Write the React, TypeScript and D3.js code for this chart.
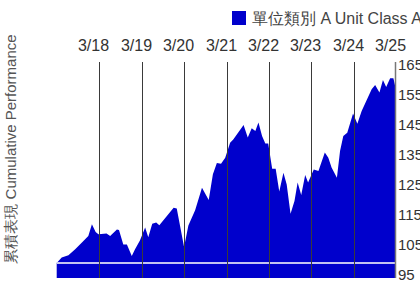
import { useEffect, useRef } from "react";
import * as d3 from "d3";

// fund cumulative performance, rebased to 100
const dates = [
  "2017-03-31", "2017-05-13", "2017-07-10", "2017-09-06", "2017-11-03", "2017-12-28",
  "2018-01-28", "2018-03-01", "2018-03-25", "2018-06-03", "2018-07-04", "2018-08-31",
  "2018-09-18", "2018-10-25", "2018-11-25", "2019-01-06", "2019-02-03", "2019-03-17",
  "2019-05-01", "2019-05-28", "2019-07-01", "2019-08-04", "2019-08-31", "2020-01-01",
  "2020-01-28", "2020-03-31", "2020-05-07", "2020-07-04", "2020-09-01", "2020-10-29",
  "2020-12-04", "2021-01-07", "2021-02-12", "2021-03-20", "2021-05-01", "2021-05-28",
  "2021-08-25", "2021-09-30", "2021-11-03", "2021-12-04", "2021-12-31", "2022-01-31",
  "2022-02-28", "2022-03-25", "2022-04-28", "2022-05-28", "2022-06-28", "2022-08-03",
  "2022-08-31", "2022-10-03", "2022-11-06", "2022-12-03", "2023-01-03", "2023-02-06",
  "2023-03-03", "2023-04-21", "2023-05-31", "2023-07-25", "2023-08-24", "2023-09-21",
  "2023-11-06", "2023-12-03", "2023-12-31", "2024-02-03", "2024-03-24", "2024-04-30",
  "2024-06-06", "2024-08-31", "2024-09-30", "2024-11-06", "2024-12-06", "2025-01-03",
  "2025-02-06", "2025-03-06", "2025-03-24",
];
const classA = [
  100.0, 101.8, 102.6, 104.6, 106.8, 109.0,
  112.9, 110.3, 109.6, 109.8, 109.0, 111.2,
  111.0, 106.2, 106.2, 102.3, 104.6, 107.5,
  111.8, 108.6, 113.1, 113.5, 112.6, 118.4,
  118.2, 105.3, 112.5, 117.6, 125.1, 121.0,
  129.6, 133.3, 133.1, 135.1, 140.1, 141.2,
  146.0, 141.8, 144.9, 144.0, 146.8, 142.3,
  139.8, 139.8, 131.4, 131.4, 123.8, 130.1,
  126.2, 116.4, 120.7, 126.8, 122.7, 129.3,
  126.8, 131.2, 130.7, 136.8, 135.1, 131.8,
  128.4, 137.3, 142.3, 143.4, 149.8, 146.4,
  150.7, 157.9, 159.3, 156.8, 161.0, 158.7,
  161.6, 161.6, 158.5,
];
const tickDates = ["2018-03-31", "2019-03-31", "2020-03-31", "2021-03-31", "2022-03-31", "2023-03-31", "2024-03-31", "2025-03-31"];
const tickLabels = ["3/18", "3/19", "3/20", "3/21", "3/22", "3/23", "3/24", "3/25"];
const yTicks = [95, 105, 115, 125, 135, 145, 155, 165];
const baseValue = 100;
const seriesName = "單位類別 A Unit Class A";
const yTitle = "累積表現 Cumulative Performance";

const BLUE = "#0000cc";

export default function App() {
  const svgRef = useRef<SVGSVGElement>(null);

  useEffect(() => {
    if (!svgRef.current) return;
    const svg = d3.select(svgRef.current);
    svg.selectAll("*").remove();

    const width = 420;
    const height = 282;
    const left = 56.7;
    const right = 396.3;
    const top = 62;
    const bottom = 278;
    const font = "Liberation Sans, Arial, sans-serif";

    svg.attr("width", width).attr("height", height);

    const parse = d3.timeParse("%Y-%m-%d");
    const data = dates.map((d, i) => ({ date: parse(d) as Date, value: classA[i] }));

    const x = d3.scaleTime().domain([parse("2017-03-31") as Date, parse("2025-03-31") as Date]).range([left, right]);
    const y = d3.scaleLinear().domain([95, 95 + (bottom - top) / 3]).range([bottom, top]);

    const area = d3
      .area<{ date: Date; value: number }>()
      .x((d) => x(d.date))
      .y0(bottom)
      .y1((d) => y(d.value));

    svg.append("path").datum(data).attr("d", area).attr("fill", BLUE);

    // base line at 100
    svg
      .append("line")
      .attr("x1", left)
      .attr("x2", x(data[data.length - 1].date))
      .attr("y1", y(baseValue))
      .attr("y2", y(baseValue))
      .attr("stroke", "#c4c4f2")
      .attr("stroke-width", 2);

    // yearly grid lines + labels (labels sit a bit left of their line)
    tickDates.forEach((t, i) => {
      const xx = Math.round(x(parse(t) as Date)) + 0.5;
      if (i < tickDates.length - 1) {
        svg
          .append("line")
          .attr("x1", xx)
          .attr("x2", xx)
          .attr("y1", top)
          .attr("y2", bottom)
          .attr("stroke", "#3a3a3a")
          .attr("stroke-width", 1);
      }
      svg
        .append("text")
        .attr("x", xx - 6)
        .attr("y", 51)
        .attr("text-anchor", "middle")
        .attr("font-family", font)
        .attr("font-size", 16)
        .attr("fill", "#333")
        .text(tickLabels[i]);
    });

    // right axis
    svg
      .append("line")
      .attr("x1", 395.5)
      .attr("x2", 395.5)
      .attr("y1", top)
      .attr("y2", bottom)
      .attr("stroke", "#777")
      .attr("stroke-width", 1.5);

    yTicks.forEach((v) => {
      svg
        .append("text")
        .attr("x", 398)
        .attr("y", y(v) + 2)
        .attr("font-family", font)
        .attr("font-size", 15)
        .attr("fill", "#333")
        .text(v);
    });

    // y title
    svg
      .append("text")
      .attr("transform", `translate(16,149) rotate(-90)`)
      .attr("text-anchor", "middle")
      .attr("font-family", font)
      .attr("font-size", 15)
      .attr("fill", "#555")
      .text(yTitle);

    // legend
    svg.append("rect").attr("x", 232).attr("y", 11).attr("width", 14).attr("height", 14).attr("fill", BLUE);
    svg
      .append("text")
      .attr("x", 252)
      .attr("y", 24)
      .attr("font-family", font)
      .attr("font-size", 16)
      .attr("fill", "#444")
      .text(seriesName);
  }, []);

  return (
    <div style={{ position: "absolute", left: 0, top: 0, width: 420, height: 282, overflow: "hidden", background: "#fff" }}>
      <svg ref={svgRef} style={{ display: "block" }}></svg>
    </div>
  );
}
